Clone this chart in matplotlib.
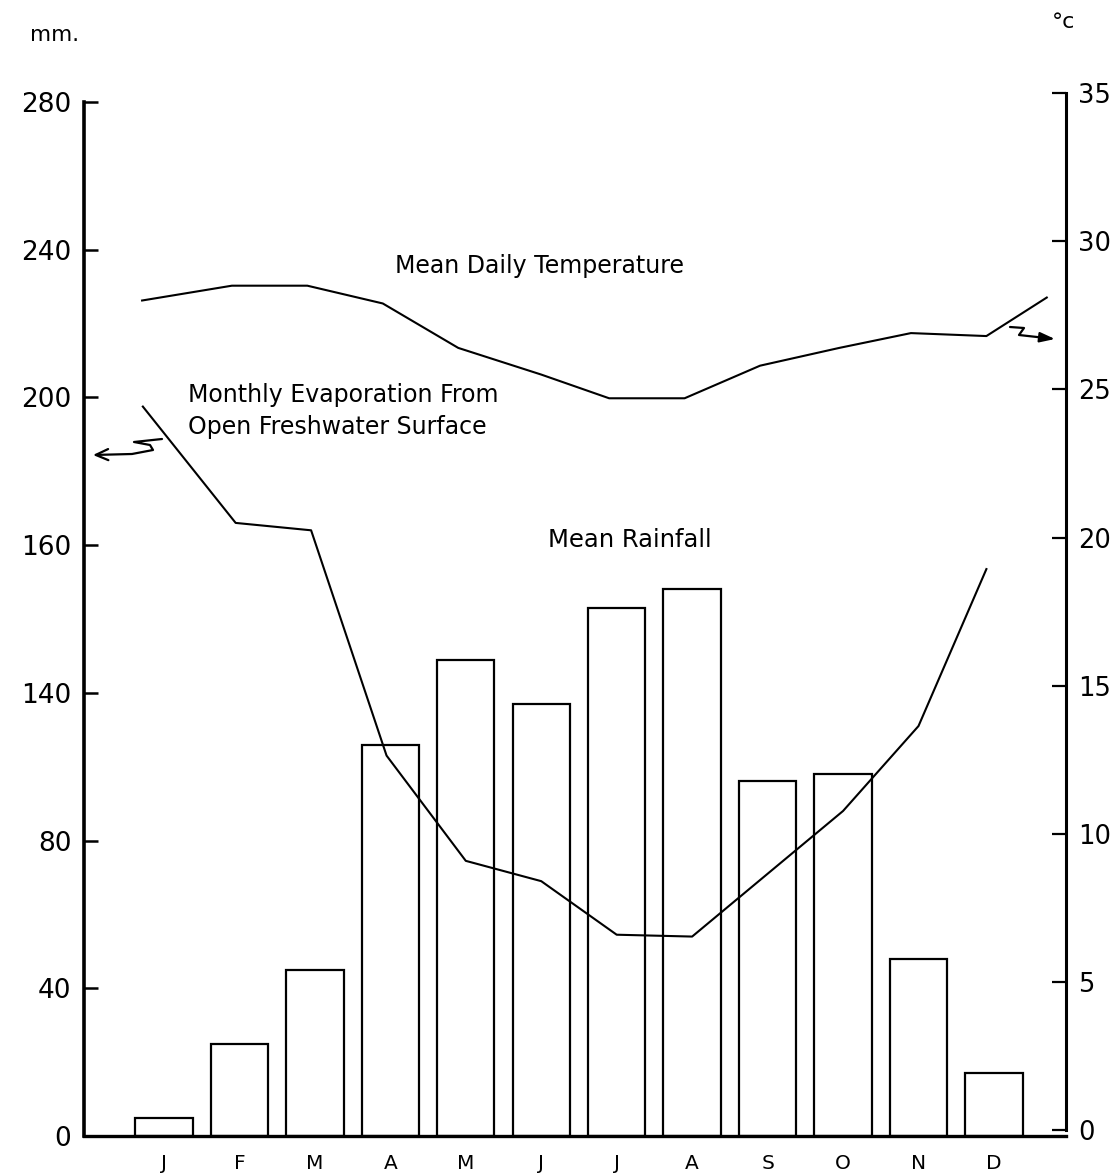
"""Climate chart: mean rainfall bars, evaporation and mean daily temperature lines."""

import matplotlib
matplotlib.use("Agg")
import matplotlib.pyplot as plt
from matplotlib.path import Path
from matplotlib.patches import FancyArrowPatch


MONTHS = ["J", "F", "M", "A", "M", "J", "J", "A", "S", "O", "N", "D"]
RAINFALL_MM = [5, 25, 45, 106, 129, 117, 143, 148, 96, 98, 48, 17]

# evaporation (left axis, mm) -- x in month units as drawn on the original
EVAP_X = [-0.28, 0.95, 1.95, 2.95, 4.0, 5.0, 6.0, 7.0, 8.0, 9.0, 10.0, 10.9]
EVAPORATION_MM = [197.5, 166, 164, 103, 74.5, 69, 54.5, 54, 71, 88, 111, 153.5]

# mean daily temperature (right axis, deg C)
TEMP_X = [-0.29, 0.9, 1.9, 2.9, 3.9, 5.0, 5.9, 6.9, 7.9, 8.95, 9.9, 10.9, 11.7]
TEMPERATURE_C = [28.0, 28.5, 28.5, 27.9, 26.4, 25.5, 24.7, 24.7, 25.8, 26.4, 26.9, 26.8, 28.1]

MM_TICKS = [0, 40, 80, 120, 160, 200, 240, 280]
MM_TICK_LABELS = ["0", "40", "80", "140", "160", "200", "240", "280"]  # as printed
C_TICKS = [0, 5, 10, 15, 20, 25, 30, 35]

W, H = 1120, 1175
AX_L, AX_R, AX_B, AX_T = 84, 1066, 1136, 86


def px_to_axes(x, y):
    return ((x - AX_L) / (AX_R - AX_L), (AX_B - y) / (AX_B - AX_T))


def squiggle(ax, pts, style):
    verts = [px_to_axes(x, y) for x, y in pts]
    codes = [Path.MOVETO] + [Path.LINETO] * (len(verts) - 1)
    arrow = FancyArrowPatch(path=Path(verts, codes), arrowstyle=style,
                            mutation_scale=1, transform=ax.transAxes,
                            color="black", lw=1.6, clip_on=False)
    ax.add_patch(arrow)


def main():
    plt.rcParams["font.family"] = ["DejaVu Sans"]
    fig = plt.figure(figsize=(W / 100, H / 100), dpi=100)
    ax = fig.add_axes([AX_L / W, (H - AX_B) / H, (AX_R - AX_L) / W, (AX_B - AX_T) / H])

    ax.bar(range(12), RAINFALL_MM, width=0.76, facecolor="white",
           edgecolor="black", linewidth=1.6, zorder=2)
    ax.plot(EVAP_X, EVAPORATION_MM, color="black", lw=1.5, zorder=3)

    ax.set_xlim(-1.06, 11.955)
    ax.set_ylim(0, 284.3)
    ax.set_xticks(range(12))
    ax.set_xticklabels(MONTHS)
    ax.set_yticks(MM_TICKS)
    ax.set_yticklabels(MM_TICK_LABELS)

    ax2 = ax.twinx()
    ax2.plot(TEMP_X, TEMPERATURE_C, color="black", lw=1.5)
    ax2.set_ylim(-0.2, 35.24)
    ax2.set_yticks(C_TICKS)
    ax2.set_yticklabels([str(c) for c in C_TICKS])

    for side in ["top", "right"]:
        ax.spines[side].set_visible(False)
    for side in ["top", "left", "bottom"]:
        ax2.spines[side].set_visible(False)
    ax.spines["left"].set_bounds(0, 280)
    ax.spines["left"].set_linewidth(2.6)
    ax.spines["bottom"].set_linewidth(2.4)
    ax2.spines["right"].set_bounds(0, 35)
    ax2.spines["right"].set_linewidth(2.2)

    ax.tick_params(axis="y", direction="in", length=10, width=1.8, pad=9, labelsize=19)
    ax.tick_params(axis="x", direction="in", length=7, width=1.5, pad=13, labelsize=14.5)
    ax2.tick_params(axis="y", direction="in", length=10, width=1.6, pad=9, labelsize=18.5)

    # annotations
    ax.text(4.98, 235.6, "Mean Daily Temperature", ha="center", va="center", fontsize=17)
    ax.text(0.32, 196.3, "Monthly Evaporation From\nOpen Freshwater Surface",
            ha="left", va="center", fontsize=17, linespacing=1.4)
    ax.text(6.18, 161.4, "Mean Rainfall", ha="center", va="center", fontsize=17.5)

    fig.text(30 / W, 1 - 35 / H, "mm.", ha="left", va="center", fontsize=15.5)
    fig.text(1064 / W, 1 - 22 / H, "°c", ha="center", va="center", fontsize=16)

    # arrows pointing to the axis each line belongs to
    squiggle(ax, [(162, 439), (134, 442), (150, 445), (153, 450), (132, 454), (93, 455)],
             "->,head_length=9,head_width=4")
    squiggle(ax, [(1010, 327), (1024, 328), (1019, 335), (1055, 339)],
             "-|>,head_length=9,head_width=3")

    fig.savefig("out.png", dpi=100)


if __name__ == "__main__":
    main()
